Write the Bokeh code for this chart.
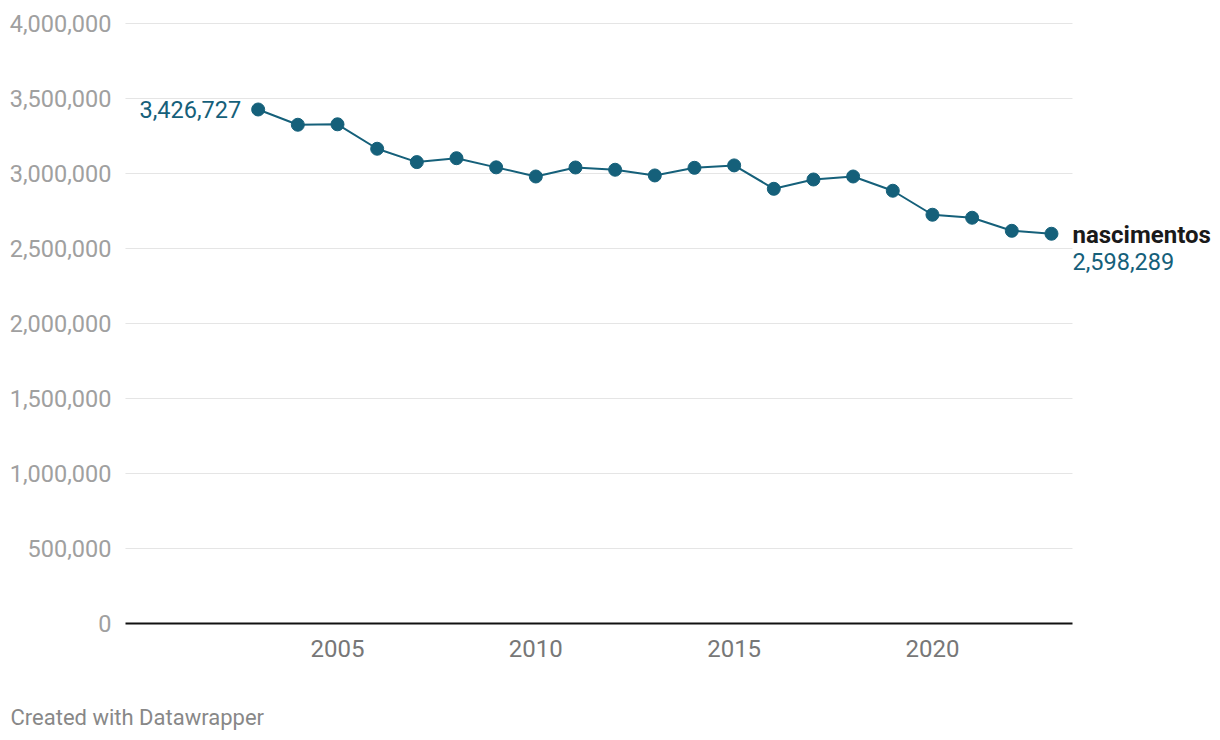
from bokeh.plotting import figure
from bokeh.models import Range1d, FixedTicker, NumeralTickFormatter, ColumnDataSource, Label
from bokeh.embed import file_html
from bokeh.resources import INLINE

years = list(range(2003, 2024))
births = [3426727, 3325000, 3328000, 3165000, 3076000, 3102000, 3041000, 2980000,
          3040000, 3025000, 2987000, 3038000, 3054000, 2898000, 2960000, 2980000,
          2885000, 2725000, 2705000, 2618000, 2598289]
series_name = "nascimentos"
y_ticks = [0, 500000, 1000000, 1500000, 2000000, 2500000, 3000000, 3500000, 4000000]
x_ticks = [2005, 2010, 2015, 2020]
credit = "Created with Datawrapper"

FONT = "Roboto"
TEAL = "#15607a"

X0, X1 = 1999.655, 2023.53         # visible data extent (axis / gridlines)
XL, XR = 1996.504, 2027.06         # frame covers the whole canvas
YB, YT = -726667, 4153333

p = figure(width=1212, height=732, output_backend="svg", toolbar_location=None,
           x_range=Range1d(XL, XR), y_range=Range1d(YB, YT),
           min_border_left=0, min_border_right=0, min_border_top=0,
           min_border_bottom=0)
p.outline_line_color = None
p.background_fill_color = "white"
p.border_fill_color = "white"

p.xgrid.grid_line_color = None
p.ygrid.grid_line_color = None

# horizontal gridlines restricted to the data extent
grid_y = y_ticks[1:]
p.segment(x0=[X0] * len(grid_y), x1=[X1] * len(grid_y), y0=grid_y, y1=grid_y,
          line_color="#e5e5e5", line_width=1)

p.yaxis.ticker = FixedTicker(ticks=y_ticks)
p.yaxis.fixed_location = X0
p.yaxis.formatter = NumeralTickFormatter(format="0,0")
p.yaxis.axis_line_color = None
p.yaxis.major_tick_line_color = None
p.yaxis.minor_tick_line_color = None
p.yaxis.major_label_standoff = 8
p.yaxis.major_label_text_font = FONT
p.yaxis.major_label_text_font_size = "23.5px"
p.yaxis.major_label_text_color = "#a0a0a0"

p.xaxis.ticker = FixedTicker(ticks=x_ticks)
p.xaxis.fixed_location = 0
p.xaxis.bounds = (X0, X1)
p.xaxis.axis_line_color = "#111111"
p.xaxis.axis_line_width = 2
p.xaxis.major_tick_line_color = None
p.xaxis.minor_tick_line_color = None
p.xaxis.major_label_standoff = 11
p.xaxis.major_label_text_font = FONT
p.xaxis.major_label_text_font_size = "24px"
p.xaxis.major_label_text_color = "#777777"

src = ColumnDataSource(dict(x=years, y=births))
p.line("x", "y", source=src, line_color=TEAL, line_width=2)
p.scatter("x", "y", source=src, size=13, fill_color=TEAL, line_color=TEAL)

# first value label
p.add_layout(Label(x=years[0], y=births[0], text=f"{births[0]:,}", x_offset=-17,
                   text_align="right", text_baseline="middle", text_font=FONT,
                   text_font_size="23.5px", text_color=TEAL))
# end labels
p.add_layout(Label(x=years[-1], y=births[-1], text=series_name, x_offset=21, y_offset=-1,
                   text_align="left", text_baseline="middle", text_font=FONT,
                   text_font_size="24px", text_font_style="bold", text_color="#1a1a1a"))
p.add_layout(Label(x=years[-1], y=births[-1], text=f"{births[-1]:,}", x_offset=21, y_offset=-28,
                   text_align="left", text_baseline="middle", text_font=FONT,
                   text_font_size="23.5px", text_color=TEAL))

# credit
p.add_layout(Label(x=10, y=15, x_units="screen", y_units="screen", text=credit,
                   text_baseline="middle", text_font=FONT, text_font_size="22px",
                   text_color="#888888"))

open("out.html", "w").write(file_html(p, INLINE))
